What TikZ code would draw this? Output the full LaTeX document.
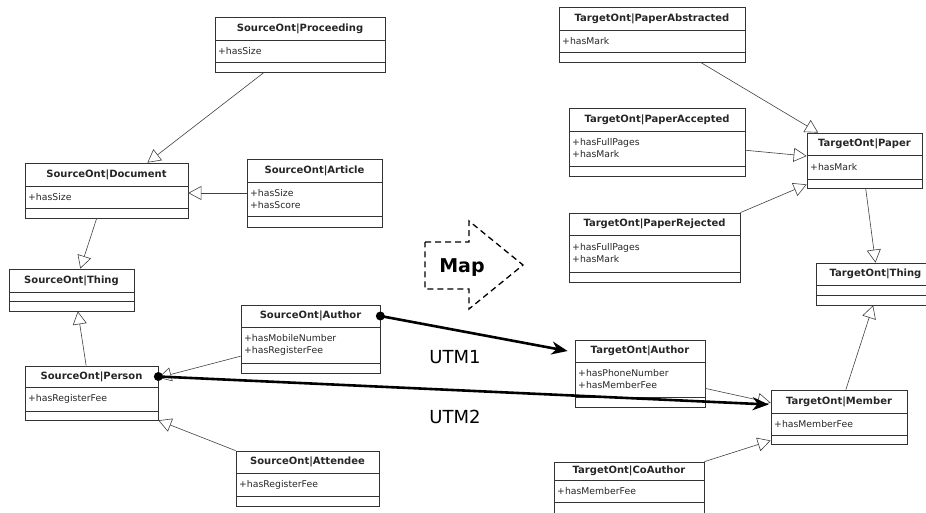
\documentclass[tikz,border=0pt]{standalone}
\usepackage{fontspec}
\setmainfont{DejaVu Sans}
\usepackage{tikz}
\usetikzlibrary{arrows.meta,calc,fit}

\tikzset{
  classbox/.style={draw=black!80, line width=0.7pt, inner sep=0pt},
  classline/.style={draw=black!80, line width=0.6pt},
  classtitle/.style={font=\fontsize{10}{12}\selectfont\bfseries, text=black!85, inner sep=0pt},
  classattr/.style={font=\fontsize{9.3}{12}\selectfont, text=black!85, align=left, inner xsep=3pt, inner ysep=0pt},
  isa/.style={draw=black!75, line width=0.6pt, -{Triangle[length=13pt, width=14pt, fill=white]}},
  utm/.style={draw=black, line width=2.6pt, -{Stealth[length=16pt, width=13pt, inset=5pt]}},
  utmlabel/.style={font=\fontsize{18}{20}\selectfont, inner sep=0pt},
  maplabel/.style={font=\fontsize{19}{20}\selectfont\bfseries, inner sep=0pt},
}

% class box: name, left, top, right, title bottom, attr bottom, bottom, title, attributes
\newcommand{\umlclass}[9]{%
  \node[classbox, fit={(#2,#3) (#4,#7)}] (#1) {};
  \draw[classline] (#2,#5) -- (#4,#5) (#2,#6) -- (#4,#6);
  \node[classtitle] (#1-title) at ({(#2+#4)/2},{(#3+#5)/2}) {#8};
  \node[classattr, anchor=west] (#1-attr) at (#2,{(#5+#6)/2}) {#9};
}

\begin{document}
\begin{tikzpicture}[x=1pt,y=-1pt]

\useasboundingbox (0,0) rectangle (926,513);

% Source ontology
\umlclass{proceeding}{215}{17}{385}{40}{62}{72}{SourceOnt|Proceeding}{+hasSize}
\umlclass{document}{25}{163}{188}{186}{208}{218}{SourceOnt|Document}{+hasSize}
\umlclass{article}{247}{159}{382}{182}{216}{227}{SourceOnt|Article}{+hasSize\\+hasScore}
\umlclass{srcthing}{9}{269}{134}{292}{301}{311}{SourceOnt|Thing}{}
\umlclass{person}{25}{366}{158}{387}{411}{420}{SourceOnt|Person}{+hasRegisterFee}
\umlclass{srcauthor}{241}{305}{380}{327}{363}{373}{SourceOnt|Author}{+hasMobileNumber\\+hasRegisterFee}
\umlclass{attendee}{236}{451}{379}{473}{496}{506}{SourceOnt|Attendee}{+hasRegisterFee}

% Target ontology
\umlclass{abstracted}{559}{7}{745}{30}{52}{62}{TargetOnt|PaperAbstracted}{+hasMark}
\umlclass{accepted}{569}{108}{745}{131}{166}{176}{TargetOnt|PaperAccepted}{+hasFullPages\\+hasMark}
\umlclass{paper}{807}{133}{922}{155}{179}{188}{TargetOnt|Paper}{+hasMark}
\umlclass{rejected}{569}{213}{740}{235}{272}{282}{TargetOnt|PaperRejected}{+hasFullPages\\+hasMark}
\umlclass{tgtthing}{816}{263}{935}{285}{295}{305}{TargetOnt|Thing}{}
\umlclass{tgtauthor}{575}{340}{705}{362}{397}{407}{TargetOnt|Author}{+hasPhoneNumber\\+hasMemberFee}
\umlclass{member}{771}{390}{907}{413}{435}{444}{TargetOnt|Member}{+hasMemberFee}
\umlclass{coauthor}{554}{462}{704}{480}{502}{520}{TargetOnt|CoAuthor}{+hasMemberFee}

% Generalisations (source)
\draw[isa] ($(proceeding.south west)!0.29!(proceeding.south east)$) -- ($(document.north west)!0.75!(document.north east)$);
\draw[isa] (article.west) -- (article.west -| document.east);
\draw[isa] ($(document.south west)!0.44!(document.south east)$) -- ($(srcthing.north west)!0.57!(srcthing.north east)$);
\draw[isa] ($(person.north west)!0.46!(person.north east)$) -- ($(srcthing.south west)!0.55!(srcthing.south east)$);
\draw[isa] ($(srcauthor.north west)!0.75!(srcauthor.south west)$) -- ($(person.north east)!0.22!(person.south east)$);
\draw[isa] (attendee.north west) -- (person.south east);

% Generalisations (target)
\draw[isa] ($(abstracted.south west)!0.76!(abstracted.south east)$) -- ($(paper.north west)!0.1!(paper.north east)$);
\draw[isa] ($(accepted.north east)!0.62!(accepted.south east)$) -- ($(paper.north west)!0.42!(paper.south west)$);
\draw[isa] (rejected.north east) -- ($(paper.north west)!0.93!(paper.south west)$);
\draw[isa] ($(paper.south west)!0.51!(paper.south east)$) -- ($(tgtthing.north west)!0.5!(tgtthing.north east)$);
\draw[isa] ($(member.north west)!0.55!(member.north east)$) -- ($(tgtthing.south west)!0.48!(tgtthing.south east)$);
\draw[isa] ($(tgtauthor.north east)!0.72!(tgtauthor.south east)$) -- ($(member.north west)!0.24!(member.south west)$);
\draw[isa] (coauthor.north east) -- ($(member.north west)!0.93!(member.south west)$);

% Map arrow
\draw[black, dash pattern=on 6pt off 4pt, line width=1.3pt]
  (425,242) -- (469,242) -- (469,221) -- (523,265) -- (469,309) -- (469,289) -- (425,289) -- cycle;
\node[maplabel] (map) at (462,268) {Map};

% Mappings
\fill (srcauthor-title -| srcauthor.east) circle (4.5pt);
\draw[utm] (srcauthor-title -| srcauthor.east) -- ($(tgtauthor-title -| tgtauthor.west)+(-7,0)$);
\fill (person-title -| person.east) circle (4.5pt);
\draw[utm] (person-title -| person.east) -- ($(member-title -| member.west)+(-2,3)$);

\node[utmlabel] (utm1) at (455,357) {UTM1};
\node[utmlabel] (utm2) at (455,417) {UTM2};

\end{tikzpicture}
\end{document}
